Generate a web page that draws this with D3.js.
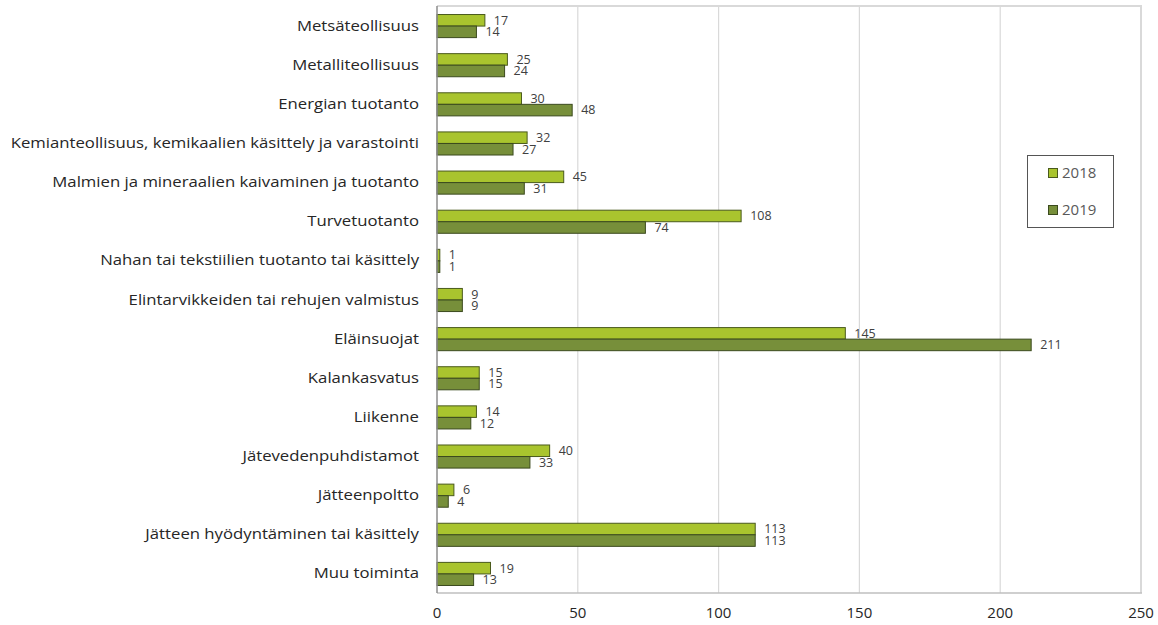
<!DOCTYPE html>
<html><head><meta charset="utf-8">
<script src="https://cdn.jsdelivr.net/npm/d3@7"></script>
<style>body{margin:0;background:#fff;}svg{display:block;}</style>
</head><body>
<svg id="c" width="1158" height="625"></svg>
<script>
const categories = ["Metsäteollisuus","Metalliteollisuus","Energian tuotanto","Kemianteollisuus, kemikaalien käsittely ja varastointi","Malmien ja mineraalien kaivaminen ja tuotanto","Turvetuotanto","Nahan tai tekstiilien tuotanto tai käsittely","Elintarvikkeiden tai rehujen valmistus","Eläinsuojat","Kalankasvatus","Liikenne","Jätevedenpuhdistamot","Jätteenpoltto","Jätteen hyödyntäminen tai käsittely","Muu toiminta"];
const values2018 = [17,25,30,32,45,108,1,9,145,15,14,40,6,113,19];
const values2019 = [14,24,48,27,31,74,1,9,211,15,12,33,4,113,13];
const seriesNames = ["2018","2019"];
const xTicks = [0,50,100,150,200,250];

const colors = ["#a9c42e","#778f3a"];
const strokes = ["#4a5a1c","#3b4a1e"];
const font = "'Open Sans', 'Noto Sans', sans-serif";

const svg = d3.select("#c");
const L = 437, R = 1141, T = 6, B = 593;
const x = d3.scaleLinear().domain([0,250]).range([L,R]);
const y = d3.scaleBand().domain(categories).range([T,B]).paddingInner(0.41).paddingOuter(0.205);
const ys = d3.scaleBand().domain(seriesNames).range([0,y.bandwidth()]);

// gridlines
svg.append("g").selectAll("line").data(xTicks.slice(1)).join("line")
  .attr("x1",d=>x(d)).attr("x2",d=>x(d)).attr("y1",T).attr("y2",B)
  .attr("stroke","#d9d9d9").attr("stroke-width",d=>d===250?2:1.2);
// top and bottom border
svg.append("line").attr("x1",L).attr("x2",R+1).attr("y1",T).attr("y2",T).attr("stroke","#d9d9d9").attr("stroke-width",2);
svg.append("line").attr("x1",L).attr("x2",R+1).attr("y1",B).attr("y2",B).attr("stroke","#bfbfbf").attr("stroke-width",1.5);

// bars
const data = categories.map((c,i)=>({c, v:[values2018[i], values2019[i]]}));
const groups = svg.append("g").selectAll("g").data(data).join("g")
  .attr("transform",d=>`translate(0,${y(d.c)})`);
groups.selectAll("rect").data(d=>d.v.map((v,k)=>({v,k}))).join("rect")
  .attr("x",x(0)).attr("y",d=>ys(seriesNames[d.k])+0.5)
  .attr("width",d=>x(d.v)-x(0)).attr("height",ys.bandwidth())
  .attr("fill",d=>colors[d.k]).attr("stroke",d=>strokes[d.k]).attr("stroke-width",1);
groups.selectAll("text").data(d=>d.v.map((v,k)=>({v,k}))).join("text")
  .attr("x",d=>x(d.v)+9).attr("y",d=>ys(seriesNames[d.k])+ys.bandwidth()/2+0.5)
  .attr("dy","0.35em").attr("font-family",font).attr("font-size",12.5).attr("fill","#404040")
  .text(d=>d.v);

// y axis line
svg.append("line").attr("x1",L).attr("x2",L).attr("y1",T).attr("y2",B).attr("stroke","#8c8c8c").attr("stroke-width",1.5);

// category labels (horizontally stretched to match reference glyph widths)
svg.append("g").selectAll("text").data(categories).join("text")
  .attr("transform",d=>`translate(419,${y(d)+y.bandwidth()/2}) scale(1.17,1)`)
  .attr("dy","0.35em")
  .attr("text-anchor","end").attr("font-family",font).attr("font-size",14.3).attr("fill","#262626")
  .text(d=>d);

// x tick labels
svg.append("g").selectAll("text").data(xTicks).join("text")
  .attr("x",d=>x(d)).attr("y",618).attr("text-anchor","middle")
  .attr("font-family",font).attr("font-size",15).attr("fill","#262626").text(d=>d);

// legend
const lg = svg.append("g");
lg.append("rect").attr("x",1027.5).attr("y",155.5).attr("width",86).attr("height",72)
  .attr("fill","#fff").attr("stroke","#555").attr("stroke-width",1);
seriesNames.forEach((s,k)=>{
  const cy = 173 + k*37;
  lg.append("rect").attr("x",1048.5).attr("y",cy-4.5).attr("width",9).attr("height",9)
    .attr("fill",colors[k]).attr("stroke",strokes[k]);
  lg.append("text").attr("x",1062).attr("y",cy).attr("dy","0.35em")
    .attr("font-family",font).attr("font-size",15).attr("fill","#595959").text(s);
});
</script>
</body></html>
